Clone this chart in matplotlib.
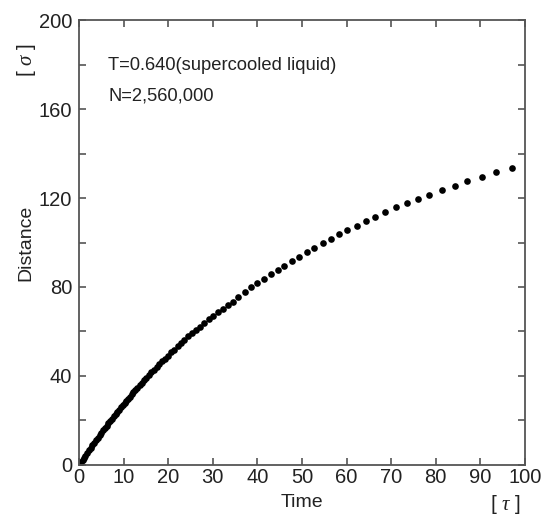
import numpy as np
import matplotlib
matplotlib.use("Agg")
import matplotlib.pyplot as plt
from matplotlib.ticker import MultipleLocator

plt.rcParams['font.family'] = ['Liberation Sans', 'DejaVu Sans']
plt.rcParams['mathtext.fontset'] = 'custom'
plt.rcParams['mathtext.it'] = 'Liberation Serif:italic'

# time [tau] and distance [sigma]
time = [0.2, 0.5, 0.8, 1.1, 1.4, 1.8, 2.2, 2.6, 3.0, 3.4, 3.8, 4.2, 4.6, 5.0,
        5.4, 5.8, 6.2, 6.6, 7.0, 7.4, 7.8, 8.2, 8.6, 9.0, 9.4, 9.8, 10.2, 10.6,
        11.0, 11.4, 11.8, 12.2, 12.6, 13.0, 13.6, 14.1, 14.6, 15.1, 15.6, 16.2,
        16.8, 17.4, 18.0, 18.6, 19.2, 19.9, 20.6, 21.3, 22.1, 22.8, 23.6, 24.5,
        25.3, 26.2, 27.1, 28.1, 29.1, 30.1, 31.1, 32.2, 33.3,
        34.5, 35.7, 37.2, 38.6, 40.0, 41.5, 43.0, 44.6, 46.0, 47.7, 49.3, 51.1,
        52.8, 54.6, 56.4, 58.3, 60.2, 62.3, 64.3, 66.4, 68.6, 71.0, 73.5, 75.9,
        78.5, 81.3, 84.3, 87.1, 90.3, 93.5, 97.0]
distance = [0.62, 1.54, 2.45, 3.36, 4.26, 5.45, 6.63, 7.79, 8.94, 10.08, 11.20,
            12.31, 13.41, 14.5, 15.58, 16.64, 17.70, 18.76, 19.80, 20.84, 21.86,
            22.88, 23.90, 24.90, 25.90, 26.88, 27.89, 28.86, 29.83, 30.78, 31.73,
            32.67, 33.60, 34.53, 35.90, 37.02, 38.14, 39.22, 40.31, 41.60, 42.88,
            44.14, 45.38, 46.60, 47.80, 49.18, 50.56, 51.90, 53.41, 54.70, 56.16,
            57.77, 59.12, 60.68, 62.20, 63.86, 65.49, 67.06, 68.62, 70.31, 71.85,
            73.4, 75.6, 77.6, 79.8, 81.6, 83.7, 85.7, 87.6, 89.6, 91.7, 93.6, 95.6,
            97.7, 99.6, 101.6, 103.7, 105.6, 107.6, 109.7, 111.6, 113.6, 115.8,
            117.6, 119.7, 121.5, 123.6, 125.5, 127.6, 129.6, 131.5, 133.6]

fig = plt.figure(figsize=(5.51, 5.20), dpi=100)
ax = fig.add_axes([0.1434, 0.1058, 0.8094, 0.8557])

ax.plot(time, distance, 'o', color='black', ms=4.8, mew=0)

ax.set_xlim(0, 100)
ax.set_ylim(0, 200)
ax.xaxis.set_major_locator(MultipleLocator(10))
ax.yaxis.set_major_locator(MultipleLocator(40))
ax.yaxis.set_minor_locator(MultipleLocator(20))

txt = '#222222'
for s in ax.spines.values():
    s.set_color('#555555')
    s.set_linewidth(1.3)
ax.tick_params(which='both', direction='in', top=True, right=True,
               length=5, width=1.2, color='#555555', labelsize=14.5,
               labelcolor=txt)
ax.tick_params(axis='x', pad=2)
ax.tick_params(axis='y', pad=5)

ax.set_xlabel('Time', fontsize=14, color=txt, labelpad=5)
ax.set_ylabel('Distance', fontsize=14, color=txt, labelpad=3)

fig.text(26 / 551, 1 - 60 / 520, r'[ $\sigma$ ]', rotation=90, fontsize=15,
         color=txt, ha='center', va='center')
fig.text(506 / 551, 1 - 505 / 520, r'[ $\tau$ ]', fontsize=15,
         color=txt, ha='center', va='center')

ax.text(108 / 551, 1 - 65 / 520, 'T=0.640(supercooled liquid)', fontsize=13.2,
        color=txt, ha='left', va='center', transform=fig.transFigure)
ax.text(108 / 551, 1 - 96 / 520, 'N=2,560,000', fontsize=13.2,
        color=txt, ha='left', va='center', transform=fig.transFigure)

fig.savefig('out.png', dpi=100)
